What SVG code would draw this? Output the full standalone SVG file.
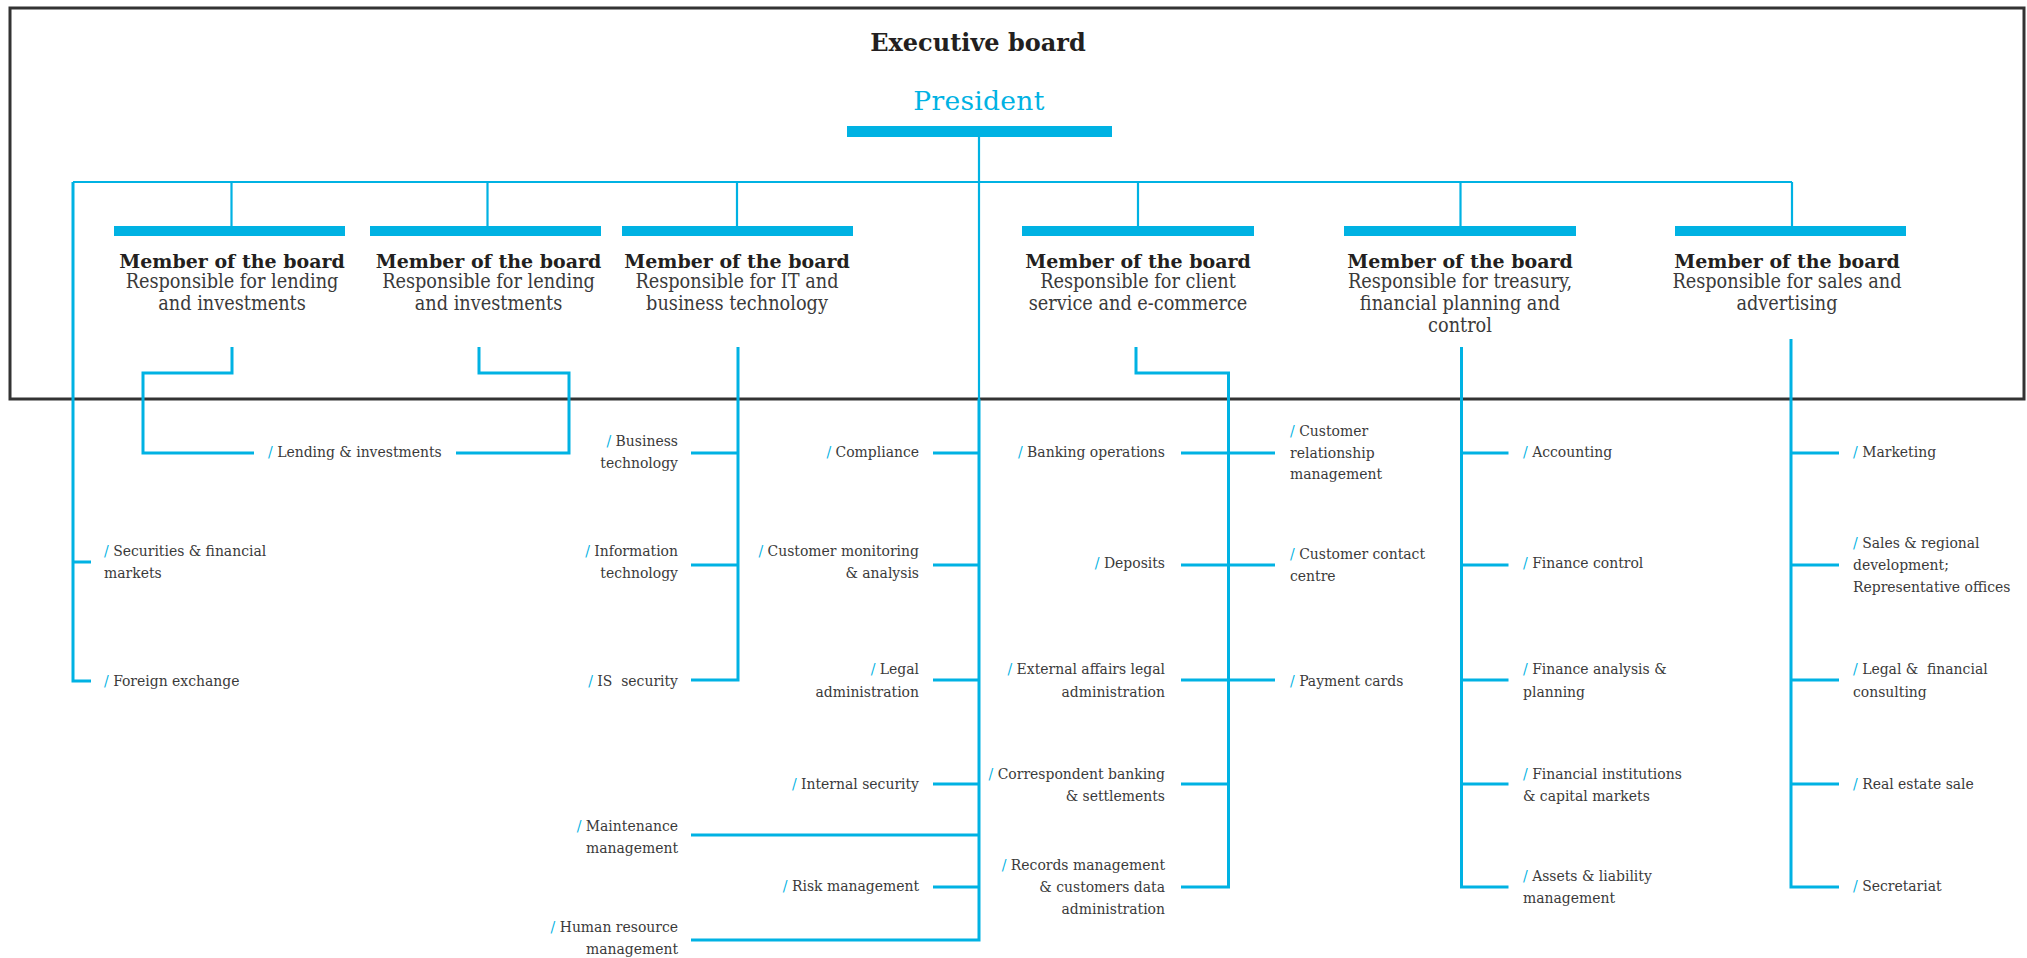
<svg xmlns="http://www.w3.org/2000/svg" width="2027" height="958" viewBox="0 0 2027 958">
<style>
.frame{fill:none;stroke:#333333;stroke-width:3}
.bar{fill:#00b2e3}
.ln{fill:none;stroke:#00b2e3;stroke-width:2.2}
.lo{fill:none;stroke:#00b2e3;stroke-width:3}
.t{font-family:"DejaVu Serif","Liberation Serif",serif}
.exec{font-size:24px;font-weight:bold;fill:#231f20;text-anchor:middle}
.pres{font-size:26.5px;fill:#00b2e3;text-anchor:middle;letter-spacing:0.3px}
.mt{font-size:19px;font-weight:bold;fill:#231f20;text-anchor:middle}
.ms{font-size:19.7px;font-stretch:condensed;fill:#3a3a3a;text-anchor:middle}
.lb{font-size:15.5px;font-stretch:condensed;fill:#3a3a3a}
.r{text-anchor:end}
.s{fill:#00b2e3}
</style>
<rect class="frame" x="10" y="8" width="2014" height="391"/>
<g id="executive-board">
<text class="t exec" x="978" y="51">Executive board</text>
</g>
<g id="president">
<text class="t pres" x="979" y="110">President</text>
<rect class="bar" x="847" y="126" width="265" height="11"/>
</g>
<g id="connectors">
<path class="ln" d="M979,137 V399"/>
<path class="lo" d="M979,399 V940 H691"/>
<path class="ln" d="M73,182 H1792"/>
<path class="ln" d="M231.5,182 V226 M487.5,182 V226 M737,182 V226 M1138,182 V226 M1460.5,182 V226 M1792,182 V226"/>
<path class="lo" d="M73,182 V681 H91 M73,562 H91"/>
<path class="lo" d="M232,347 V373 H143 V453 H254"/>
<path class="lo" d="M479,347 V373 H569 V453 H456"/>
<path class="lo" d="M738,347 V680 H691 M691,453 H738 M691,565 H738"/>
<path class="lo" d="M933,453 H979 M933,565 H979 M933,680 H979 M933,784 H979 M691,835 H979 M933,887 H979"/>
<path class="lo" d="M1136,347 V373 H1228.5 V887 H1181 M1181,453 H1275 M1181,565 H1275 M1181,680 H1275 M1181,784 H1228.5"/>
<path class="lo" d="M1461.5,347 V887 H1508.5 M1461.5,453 H1508.5 M1461.5,565 H1508.5 M1461.5,680 H1508.5 M1461.5,784 H1508.5"/>
<path class="lo" d="M1791,339 V887 H1839 M1791,453 H1839 M1791,565 H1839 M1791,680 H1839 M1791,784 H1839"/>
</g>
<g id="member-1">
<rect class="bar" x="114" y="226" width="231" height="10"/>
<text class="t mt" x="232" y="267.5">Member of the board</text>
<text class="t ms" x="232" y="288">Responsible for lending</text>
<text class="t ms" x="232" y="310">and investments</text>
</g>
<g id="member-2">
<rect class="bar" x="370" y="226" width="231" height="10"/>
<text class="t mt" x="488.5" y="267.5">Member of the board</text>
<text class="t ms" x="488.5" y="288">Responsible for lending</text>
<text class="t ms" x="488.5" y="310">and investments</text>
</g>
<g id="member-3">
<rect class="bar" x="622" y="226" width="231" height="10"/>
<text class="t mt" x="737" y="267.5">Member of the board</text>
<text class="t ms" x="737" y="288">Responsible for IT and</text>
<text class="t ms" x="737" y="310">business technology</text>
</g>
<g id="member-4">
<rect class="bar" x="1022" y="226" width="232" height="10"/>
<text class="t mt" x="1138" y="267.5">Member of the board</text>
<text class="t ms" x="1138" y="288">Responsible for client</text>
<text class="t ms" x="1138" y="310">service and e-commerce</text>
</g>
<g id="member-5">
<rect class="bar" x="1344" y="226" width="232" height="10"/>
<text class="t mt" x="1460" y="267.5">Member of the board</text>
<text class="t ms" x="1460" y="288">Responsible for treasury,</text>
<text class="t ms" x="1460" y="310">financial planning and</text>
<text class="t ms" x="1460" y="332">control</text>
</g>
<g id="member-6">
<rect class="bar" x="1675" y="226" width="231" height="10"/>
<text class="t mt" x="1787" y="267.5">Member of the board</text>
<text class="t ms" x="1787" y="288">Responsible for sales and</text>
<text class="t ms" x="1787" y="310">advertising</text>
</g>
<g id="lending-investments"><text class="t lb" x="268" y="457"><tspan class="s">/</tspan> Lending &amp; investments</text></g>
<g id="securities"><text class="t lb" x="104" y="556"><tspan class="s">/</tspan> Securities &amp; financial</text><text class="t lb" x="104" y="578">markets</text></g>
<g id="foreign-exchange"><text class="t lb" x="104" y="686"><tspan class="s">/</tspan> Foreign exchange</text></g>
<g id="business-technology"><text class="t lb r" x="678" y="446"><tspan class="s">/</tspan> Business</text><text class="t lb r" x="678" y="468">technology</text></g>
<g id="information-technology"><text class="t lb r" x="678" y="556"><tspan class="s">/</tspan> Information</text><text class="t lb r" x="678" y="578">technology</text></g>
<g id="is-security"><text class="t lb r" x="678" y="686" xml:space="preserve"><tspan class="s">/</tspan> IS  security</text></g>
<g id="maintenance"><text class="t lb r" x="678" y="831"><tspan class="s">/</tspan> Maintenance</text><text class="t lb r" x="678" y="853">management</text></g>
<g id="human-resource"><text class="t lb r" x="678" y="932"><tspan class="s">/</tspan> Human resource</text><text class="t lb r" x="678" y="954">management</text></g>
<g id="compliance"><text class="t lb r" x="919" y="457"><tspan class="s">/</tspan> Compliance</text></g>
<g id="customer-monitoring"><text class="t lb r" x="919" y="556"><tspan class="s">/</tspan> Customer monitoring</text><text class="t lb r" x="919" y="578">&amp; analysis</text></g>
<g id="legal-administration"><text class="t lb r" x="919" y="674"><tspan class="s">/</tspan> Legal</text><text class="t lb r" x="919" y="697">administration</text></g>
<g id="internal-security"><text class="t lb r" x="919" y="789"><tspan class="s">/</tspan> Internal security</text></g>
<g id="risk-management"><text class="t lb r" x="919" y="891"><tspan class="s">/</tspan> Risk management</text></g>
<g id="banking-operations"><text class="t lb r" x="1165" y="457"><tspan class="s">/</tspan> Banking operations</text></g>
<g id="deposits"><text class="t lb r" x="1165" y="568"><tspan class="s">/</tspan> Deposits</text></g>
<g id="external-affairs"><text class="t lb r" x="1165" y="674"><tspan class="s">/</tspan> External affairs legal</text><text class="t lb r" x="1165" y="697">administration</text></g>
<g id="correspondent-banking"><text class="t lb r" x="1165" y="779"><tspan class="s">/</tspan> Correspondent banking</text><text class="t lb r" x="1165" y="801">&amp; settlements</text></g>
<g id="records-management"><text class="t lb r" x="1165" y="870"><tspan class="s">/</tspan> Records management</text><text class="t lb r" x="1165" y="892">&amp; customers data</text><text class="t lb r" x="1165" y="914">administration</text></g>
<g id="customer-relationship"><text class="t lb" x="1290" y="436"><tspan class="s">/</tspan> Customer</text><text class="t lb" x="1290" y="458">relationship</text><text class="t lb" x="1290" y="479">management</text></g>
<g id="customer-contact"><text class="t lb" x="1290" y="559"><tspan class="s">/</tspan> Customer contact</text><text class="t lb" x="1290" y="581">centre</text></g>
<g id="payment-cards"><text class="t lb" x="1290" y="686"><tspan class="s">/</tspan> Payment cards</text></g>
<g id="accounting"><text class="t lb" x="1523" y="457"><tspan class="s">/</tspan> Accounting</text></g>
<g id="finance-control"><text class="t lb" x="1523" y="568"><tspan class="s">/</tspan> Finance control</text></g>
<g id="finance-analysis"><text class="t lb" x="1523" y="674"><tspan class="s">/</tspan> Finance analysis &amp;</text><text class="t lb" x="1523" y="697">planning</text></g>
<g id="financial-institutions"><text class="t lb" x="1523" y="779"><tspan class="s">/</tspan> Financial institutions</text><text class="t lb" x="1523" y="801">&amp; capital markets</text></g>
<g id="assets-liability"><text class="t lb" x="1523" y="881"><tspan class="s">/</tspan> Assets &amp; liability</text><text class="t lb" x="1523" y="903">management</text></g>
<g id="marketing"><text class="t lb" x="1853" y="457"><tspan class="s">/</tspan> Marketing</text></g>
<g id="sales-regional"><text class="t lb" x="1853" y="548"><tspan class="s">/</tspan> Sales &amp; regional</text><text class="t lb" x="1853" y="570">development;</text><text class="t lb" x="1853" y="592">Representative offices</text></g>
<g id="legal-financial"><text class="t lb" x="1853" y="674" xml:space="preserve"><tspan class="s">/</tspan> Legal &amp;  financial</text><text class="t lb" x="1853" y="697">consulting</text></g>
<g id="real-estate"><text class="t lb" x="1853" y="789"><tspan class="s">/</tspan> Real estate sale</text></g>
<g id="secretariat"><text class="t lb" x="1853" y="891"><tspan class="s">/</tspan> Secretariat</text></g>
</svg>
